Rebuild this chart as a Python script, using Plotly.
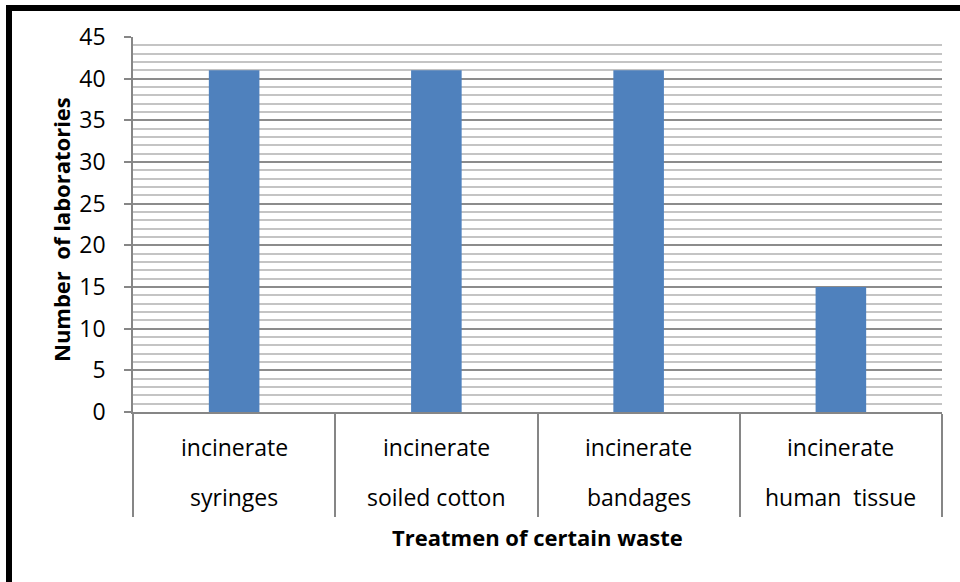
import plotly.graph_objects as go

categories = ["syringes", "soiled cotton", "bandages", "human  tissue"]
line1 = ["incinerate", "incinerate", "incinerate", "incinerate"]
values = [41, 41, 41, 15]
y_ticks = [0, 5, 10, 15, 20, 25, 30, 35, 40, 45]

W, H = 960, 582
L, R, T, B = 133, 18, 37, 170
pw, ph = W - L - R, H - T - B

def px_x(px):
    return (px - L) / pw

def px_y(py):
    return (H - B - py) / ph

FONT = "Open Sans"

fig = go.Figure()
fig.add_trace(go.Bar(x=categories, y=values, marker=dict(color="#4F81BD", line=dict(width=0)),
                     showlegend=False, hoverinfo="skip"))

for a, b in zip(line1, categories):
    fig.add_annotation(x=b, y=px_y(447), xref="x", yref="paper", text=a, showarrow=False,
                       font=dict(family=FONT, size=23, color="#000"), yanchor="middle")
    fig.add_annotation(x=b, y=px_y(497), xref="x", yref="paper", text=b, showarrow=False,
                       font=dict(family=FONT, size=23, color="#000"), yanchor="middle")

fig.add_annotation(x=0.5, y=px_y(537), xref="paper", yref="paper",
                   text="<b>Treatmen of certain waste</b>", showarrow=False,
                   font=dict(family=FONT, size=22, color="#000"), yanchor="middle")
fig.add_annotation(x=px_x(61), y=px_y(230), xref="paper", yref="paper",
                   text="<b>Number  of laboratories</b>", showarrow=False, textangle=-90,
                   font=dict(family=FONT, size=22, color="#000"), xanchor="center", yanchor="middle")

# outer frame
fig.add_shape(type="rect", xref="paper", yref="paper",
              x0=px_x(9), x1=px_x(1000), y0=px_y(640), y1=px_y(8),
              line=dict(color="black", width=6), fillcolor="rgba(0,0,0,0)", layer="above")

fig.update_layout(
    width=W, height=H,
    margin=dict(l=L, r=R, t=T, b=B, pad=0),
    paper_bgcolor="white", plot_bgcolor="white",
    bargap=0.75,
    font=dict(family=FONT, color="#000"),
    xaxis=dict(type="category", range=[-0.5, 3.5],
               showticklabels=False, tickson="boundaries", ticks="outside",
               ticklen=103, tickwidth=1.5, tickcolor="#868686",
               showline=True, linecolor="#868686", linewidth=1.5,
               showgrid=False, zeroline=False, fixedrange=True),
    yaxis=dict(range=[0, 45], tickvals=y_ticks, ticks="outside", ticklen=7,
               tickwidth=1.5, tickcolor="#868686",
               showline=True, linecolor="#868686", linewidth=1.5,
               showgrid=True, gridcolor="#8C8C8C", gridwidth=1.5,
               minor=dict(dtick=1, showgrid=True, gridcolor="#C4C4C4", gridwidth=1.5, ticks=""),
               zeroline=False, tickfont=dict(family=FONT, size=23, color="#000"),
               ticklabelstandoff=14, fixedrange=True),
)

fig.write_html("out.html", config={"displayModeBar": False},
               post_script="document.body.style.margin='0';")
